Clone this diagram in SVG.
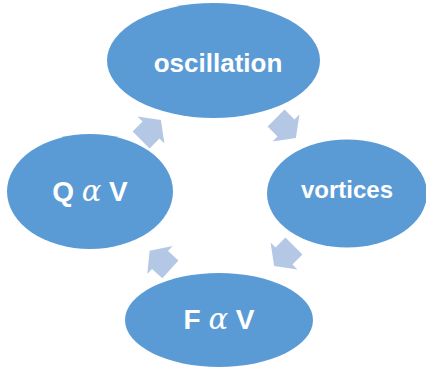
<svg xmlns="http://www.w3.org/2000/svg" width="426" height="370" viewBox="0 0 426 370">
  <defs>
    <style>
      .node { fill: #5B9BD5; }
      .arrow { fill: #B4C8E6; }
      .lbl { fill: #FFFFFF; font-family: "Liberation Sans", Arial, sans-serif; font-weight: bold; text-anchor: middle; }
      .alpha { font-family: "DejaVu Serif", "Liberation Serif", serif; font-style: italic; font-weight: normal; font-size: 29px; }
    </style>
    <path id="blk" d="M -14,-12 L 0,-12 L 0,-19 L 14,0 L 0,19 L 0,12 L -14,12 Z"/>
  </defs>
  <rect width="426" height="370" fill="#FFFFFF"/>
  <g id="connectors">
    <use href="#blk" class="arrow" transform="translate(151,130) rotate(-45)"/>
    <use href="#blk" class="arrow" transform="translate(286,128) rotate(45)"/>
    <use href="#blk" class="arrow" transform="translate(284,256) rotate(135)"/>
    <use href="#blk" class="arrow" transform="translate(160,260) rotate(222)"/>
  </g>
  <g id="node-oscillation">
    <ellipse class="node" cx="213.5" cy="60.5" rx="106.5" ry="57.5"/>
    <text class="lbl" x="218" y="72" font-size="26">oscillation</text>
  </g>
  <g id="node-vortices">
    <ellipse class="node" cx="347" cy="193.5" rx="80" ry="54"/>
    <text class="lbl" x="347" y="198" font-size="24">vortices</text>
  </g>
  <g id="node-FaV">
    <ellipse class="node" cx="219" cy="320" rx="94" ry="47"/>
    <text class="lbl" x="219" y="329" font-size="28">F <tspan class="alpha">α</tspan> V</text>
  </g>
  <g id="node-QaV">
    <ellipse class="node" cx="90" cy="191.5" rx="83" ry="57.5"/>
    <text class="lbl" x="90" y="201" font-size="28">Q <tspan class="alpha">α</tspan> V</text>
  </g>
</svg>
